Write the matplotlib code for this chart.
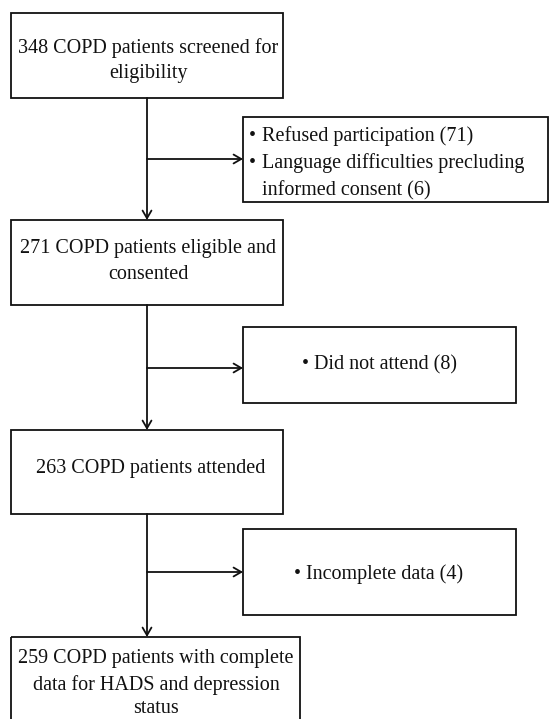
import matplotlib
matplotlib.use("Agg")
import matplotlib.pyplot as plt
from matplotlib.patches import Rectangle

W, H = 549, 719
main_labels = [
    "348 COPD patients screened for\neligibility",
    "271 COPD patients eligible and\nconsented",
    "263 COPD patients attended",
    "259 COPD patients with complete\ndata for HADS and depression\nstatus",
]
side_labels = [
    "• Refused participation (71)\n• Language difficulties precluding\ninformed consent (6)",
    "• Did not attend (8)",
    "• Incomplete data (4)",
]

# layout (pixels)
main_boxes = [(11, 13, 283, 98), (11, 220, 283, 305), (11, 430, 283, 514), (11, 637, 300, 730)]
side_boxes = [(243, 117, 548, 202), (243, 327, 516, 403), (243, 529, 516, 615)]
main_text_x = [148, 148, 151, 156]
main_baselines = [[53, 78], [253, 279], [473], [663, 690, 713]]
side_baselines = [[141, 168, 195], [369], [579]]
side_center_x = [None, 379, 379]
branch_y = [159, 368, 572]
vx = 147

fig = plt.figure(figsize=(W / 100, H / 100), dpi=100)
ax = fig.add_axes([0, 0, 1, 1])
ax.set_xlim(0, W)
ax.set_ylim(H, 0)
ax.axis("off")

font = dict(family="Liberation Serif", fontsize=14.5, color="#111111")
lw = 1.3

for (x0, y0, x1, y1) in main_boxes + side_boxes:
    ax.add_patch(Rectangle((x0, y0), x1 - x0, y1 - y0, fill=False, ec="#111111", lw=lw))

for lab, tx, bls in zip(main_labels, main_text_x, main_baselines):
    for line, by in zip(lab.split("\n"), bls):
        ax.text(tx, by, line, ha="center", va="baseline", **font)

for i, (lab, bls) in enumerate(zip(side_labels, side_baselines)):
    lines = lab.split("\n")
    if side_center_x[i] is None:
        for line, by in zip(lines, bls):
            if line.startswith("• "):
                ax.text(249, by, "•", ha="left", va="baseline", **font)
                ax.text(262, by, line[2:], ha="left", va="baseline", **font)
            else:
                ax.text(262, by, line, ha="left", va="baseline", **font)
    else:
        for line, by in zip(lines, bls):
            ax.text(side_center_x[i], by, line, ha="center", va="baseline", **font)

arrow = dict(arrowstyle="->,head_length=0.55,head_width=0.32", color="#111111", lw=lw,
             shrinkA=0, shrinkB=0)
for (top, bottom) in [(98, 220), (305, 430), (514, 637)]:
    ax.annotate("", xy=(vx, bottom), xytext=(vx, top), arrowprops=arrow)
for by, sb in zip(branch_y, side_boxes):
    ax.annotate("", xy=(sb[0], by), xytext=(vx, by), arrowprops=arrow)

fig.savefig("out.png", dpi=100)
